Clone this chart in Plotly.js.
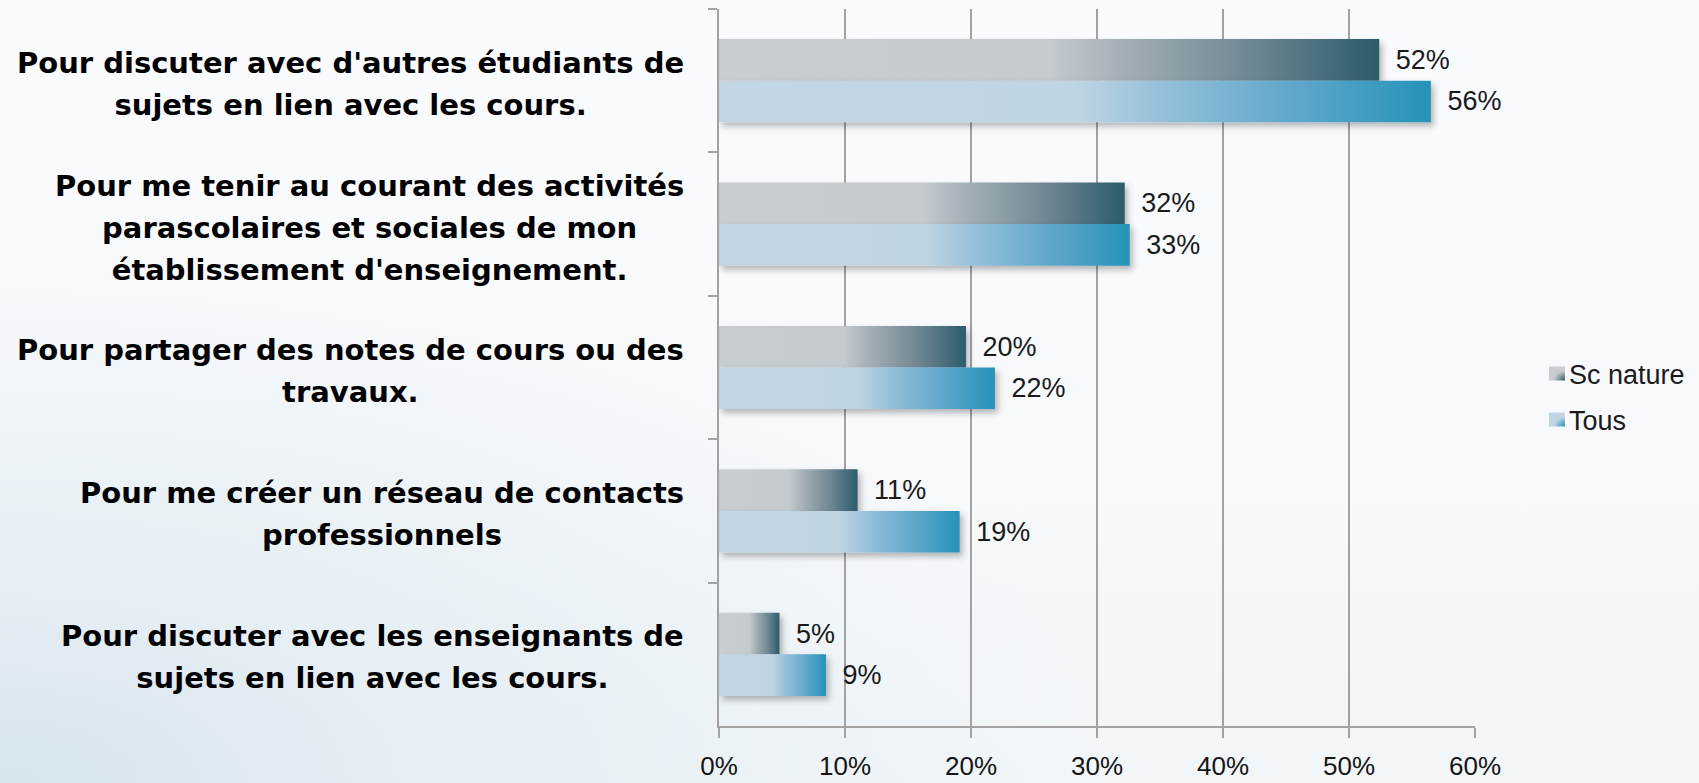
<!DOCTYPE html>
<html>
<head>
<meta charset="utf-8">
<script src="https://cdn.plot.ly/plotly-3.0.1.min.js"></script>
<style>
html, body { margin:0; padding:0; width:1699px; height:783px; overflow:hidden; }
body {
  background:
    radial-gradient(ellipse 1100px 520px at 0% 100%, #d6e5ed 0%, #e6eff4 40%, rgba(246,249,251,0) 100%),
    linear-gradient(180deg, #fafbfe 0%, #f7f9fc 60%, #f2f6f9 100%);
}
#chart { width:1699px; height:783px; }
</style>
</head>
<body>
<div id="chart"></div>
<script>
// ---- data ----
const categories = [
  "Pour discuter avec d'autres étudiants de<br>sujets en lien avec les cours.",
  "Pour me tenir au courant des activités<br>parascolaires et sociales de mon<br>établissement d'enseignement.",
  "Pour partager des notes de cours ou des<br>travaux.",
  "Pour me créer un réseau de contacts<br>professionnels",
  "Pour discuter avec les enseignants de<br>sujets en lien avec les cours."
];
const seriesNames = ["Sc nature", "Tous"];
const scNature = [52.4, 32.2, 19.6, 11.0, 4.8];
const tous = [56.5, 32.6, 21.9, 19.1, 8.5];
const scNatureText = ["52%", "32%", "20%", "11%", "5%"];
const tousText = ["56%", "33%", "22%", "19%", "9%"];
const xTickVals = [0, 10, 20, 30, 40, 50, 60];
const xTickText = ["0%", "10%", "20%", "30%", "40%", "50%", "60%"];

// ---- styles ----
const axisGrey = "#a2a2a2";
const valueFont = { family: "Liberation Sans, Arial, sans-serif", size: 27, color: "#1a1a1a" };

const traces = [
  {
    type: "bar", orientation: "h", name: seriesNames[0],
    y: categories, x: scNature, text: scNatureText,
    texttemplate: "\u2002%{text}", textposition: "outside", cliponaxis: false,
    constraintext: "none", textfont: valueFont,
    marker: { color: "#8c9ba3", line: { width: 0 } },
    legendgroup: "a", hoverinfo: "skip"
  },
  {
    type: "bar", orientation: "h", name: seriesNames[1],
    y: categories, x: tous, text: tousText,
    texttemplate: "\u2002%{text}", textposition: "outside", cliponaxis: false,
    constraintext: "none", textfont: valueFont,
    marker: { color: "#82b6d3", line: { width: 0 } },
    legendgroup: "b", hoverinfo: "skip"
  }
];

const annotations = categories.map(c => ({
  xref: "paper", yref: "y", x: -0.0437, y: c,
  xanchor: "right", yanchor: "middle", align: "center",
  text: c, showarrow: false, yshift: -3,
  font: { family: "DejaVu Sans, sans-serif", size: 29, weight: "bold", color: "#000000" }
}));

const layout = {
  width: 1699, height: 783,
  paper_bgcolor: "rgba(0,0,0,0)", plot_bgcolor: "rgba(0,0,0,0)",
  margin: { l: 719, r: 224, t: 9, b: 57, pad: 0 },
  barmode: "group", bargap: 0.42, bargroupgap: 0,
  showlegend: true,
  font: { family: "Liberation Sans, Arial, sans-serif" },
  xaxis: {
    range: [0, 60], tickmode: "array", tickvals: xTickVals, ticktext: xTickText,
    showgrid: true, gridcolor: axisGrey, gridwidth: 2,
    showline: true, linecolor: axisGrey, linewidth: 2,
    ticks: "outside", ticklen: 10, tickwidth: 2, tickcolor: axisGrey,
    zeroline: false, ticklabelstandoff: 6,
    tickfont: { family: "Liberation Sans, Arial, sans-serif", size: 26, color: "#151515" },
    fixedrange: true
  },
  yaxis: {
    type: "category", range: [4.5, -0.5],
    showline: true, linecolor: axisGrey, linewidth: 2,
    ticks: "outside", tickson: "boundaries", ticklen: 9, tickwidth: 2, tickcolor: axisGrey,
    showticklabels: false, showgrid: false, zeroline: false, fixedrange: true
  },
  legend: {
    x: 1.0714, xanchor: "left", y: 0.459, yanchor: "middle",
    bgcolor: "rgba(0,0,0,0)", borderwidth: 0,
    font: { family: "Liberation Sans, Arial, sans-serif", size: 27, color: "#1a1a1a" },
    traceorder: "grouped", tracegroupgap: 8, itemclick: false, itemdoubleclick: false
  },
  annotations: annotations
};

function decorate(gd) {
  const NS = "http://www.w3.org/2000/svg";
  const svg = gd.querySelector("svg.main-svg");
  const defs = document.createElementNS(NS, "defs");
  defs.innerHTML =
    '<linearGradient id="gSc" x1="0" y1="0" x2="1" y2="0">' +
      '<stop offset="0" stop-color="#c8cdd1"/>' +
      '<stop offset="0.5" stop-color="#c5cbcf"/>' +
      '<stop offset="0.62" stop-color="#a1adb4"/>' +
      '<stop offset="0.8" stop-color="#718893"/>' +
      '<stop offset="1" stop-color="#2b5b6b"/>' +
    '</linearGradient>' +
    '<linearGradient id="gTous" x1="0" y1="0" x2="1" y2="0">' +
      '<stop offset="0" stop-color="#c2d5e2"/>' +
      '<stop offset="0.5" stop-color="#c0d5e2"/>' +
      '<stop offset="0.62" stop-color="#95c0da"/>' +
      '<stop offset="0.8" stop-color="#62a8cb"/>' +
      '<stop offset="1" stop-color="#2593b9"/>' +
    '</linearGradient>' +
    '<radialGradient id="lgSc" cx="1" cy="1" r="0.85">' +
      '<stop offset="0" stop-color="#2b5b6b"/>' +
      '<stop offset="0.5" stop-color="#8e9ea6"/>' +
      '<stop offset="0.8" stop-color="#c6cbcf"/>' +
      '<stop offset="1" stop-color="#c8cdd1"/>' +
    '</radialGradient>' +
    '<radialGradient id="lgTous" cx="1" cy="1" r="0.85">' +
      '<stop offset="0" stop-color="#2593b9"/>' +
      '<stop offset="0.5" stop-color="#84b8d5"/>' +
      '<stop offset="0.8" stop-color="#bfd4e2"/>' +
      '<stop offset="1" stop-color="#c2d5e2"/>' +
    '</radialGradient>' +
    '<filter id="barShadow" filterUnits="userSpaceOnUse" x="-200" y="-200" width="2400" height="1400">' +
      '<feDropShadow dx="3" dy="4" stdDeviation="3" flood-color="#000" flood-opacity="0.28"/>' +
    '</filter>';
  svg.insertBefore(defs, svg.firstChild);
  const grads = ["url(#gSc)", "url(#gTous)"];
  const lgrads = ["url(#lgSc)", "url(#lgTous)"];

  gd.querySelectorAll(".barlayer .trace").forEach((tr, i) => {
    tr.querySelectorAll(".point path").forEach(p => {
      p.style.fill = grads[i];
      p.setAttribute("filter", "url(#barShadow)");
    });
  });
  gd.querySelectorAll(".legend .traces").forEach((tr, i) => {
    tr.querySelectorAll(".legendpoints path").forEach(p => {
      p.style.fill = lgrads[i];
      p.setAttribute("transform", "translate(28,0) scale(1.33,1.17)");
    });
  });
  // wider line spacing for category labels
  const L0 = 1.3, L = 1.45, fs = 29;
  gd.querySelectorAll(".annotation-text").forEach(t => {
    const lines = t.querySelectorAll("tspan.line");
    if (!lines.length) return;
    let maxIdx = 0;
    lines.forEach(ln => {
      const idx = Math.round(parseFloat(ln.getAttribute("dy")) / L0);
      maxIdx = Math.max(maxIdx, idx);
      ln.setAttribute("dy", (idx * L) + "em");
    });
    const shift = maxIdx * (L - L0) / 2 * fs;
    t.setAttribute("transform", "translate(0," + (-shift) + ")");
  });
}

Plotly.newPlot("chart", traces, layout, { displayModeBar: false, responsive: false })
  .then(decorate);
</script>
</body>
</html>
